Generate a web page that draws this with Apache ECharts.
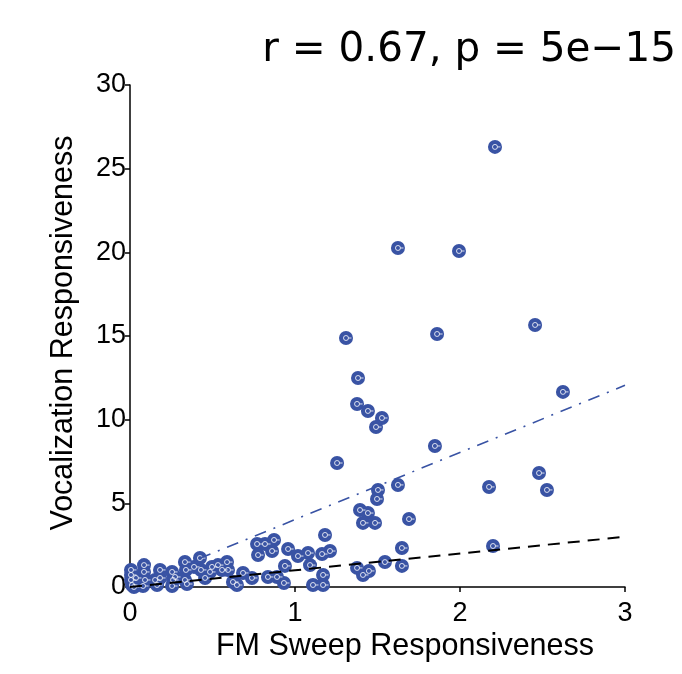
<!DOCTYPE html>
<html><head><meta charset="utf-8">
<script src="https://cdn.jsdelivr.net/npm/echarts@6/dist/echarts.min.js"></script>
<style>html,body{margin:0;padding:0;background:#fff}#c{width:682px;height:674px}</style>
</head><body><div id="c"></div>
<script>
const titleText = 'r = 0.67, p = 5e\u221215';
const xName = 'FM Sweep Responsiveness';
const yName = 'Vocalization Responsiveness';
const xTicks = [0, 1, 2, 3];
const yTicks = [0, 5, 10, 15, 20, 25, 30];
const fmSweep = [0.006,0.006,0.006,0.012,0.024,0.036,0.085,0.085,0.091,0.079,0.152,0.164,0.182,0.182,0.255,0.261,0.255,0.273,0.333,0.339,0.333,0.345,0.388,0.424,0.430,0.455,0.485,0.497,0.533,0.558,0.588,0.594,0.624,0.648,0.685,0.739,0.770,0.818,0.873,0.861,0.776,0.958,1.018,1.079,1.091,0.939,0.836,0.891,0.933,1.182,1.212,1.164,1.170,1.109,1.170,1.255,1.309,1.382,1.376,1.442,1.527,1.491,1.848,1.624,1.994,2.212,1.861,2.455,2.624,1.503,1.497,1.624,1.394,1.442,1.412,1.485,1.691,1.648,1.545,1.648,1.376,1.448,1.412,2.479,2.176,2.527,2.200];
const vocal = [1.02,0.72,0.42,0.12,0.0,0.54,1.31,0.90,0.42,0.06,0.42,0.12,1.02,0.54,0.90,0.42,0.06,0.60,1.49,1.02,0.42,0.18,1.20,1.73,1.02,0.54,0.90,1.20,1.31,1.02,1.49,1.02,0.30,0.12,0.84,0.54,2.57,2.57,2.81,2.15,1.91,2.27,1.85,2.03,1.31,1.26,0.60,0.60,0.24,3.11,2.15,1.97,0.72,0.12,0.12,7.41,14.88,12.49,10.94,10.52,10.10,9.56,8.43,20.26,20.08,26.30,15.12,15.66,11.66,5.80,5.26,6.10,4.60,4.42,3.83,3.83,4.06,2.33,1.49,1.26,1.14,0.96,0.72,6.81,5.98,5.80,2.45];
const unityLineX = [0, 3];
const unityLineY = [0, 3];
const fitLineX = [0.42, 3];
const fitLineY = [1.7, 12.05];

const blue = '#3953a4';
const pts = fmSweep.map((x, i) => [x, vocal[i]]);
const chart = echarts.init(document.getElementById('c'));
chart.setOption({
  animation: false,
  backgroundColor: '#fff',
  grid: {left: 130, right: 57, top: 85, bottom: 87},
  xAxis: {
    type: 'value', min: 0, max: 3, interval: 1,
    axisLine: {lineStyle: {color: '#000', width: 1.5}},
    axisTick: {inside: false, length: 5, lineStyle: {color: '#000', width: 1.5}},
    axisLabel: {color: '#000', fontSize: 27, fontFamily: 'Liberation Sans', margin: 13},
    splitLine: {show: false}
  },
  yAxis: {
    type: 'value', min: 0, max: 30, interval: 5,
    axisLine: {show: true, lineStyle: {color: '#000', width: 1.5}},
    axisTick: {show: true, inside: false, length: 5, lineStyle: {color: '#000', width: 1.5}},
    axisLabel: {color: '#000', fontSize: 27, fontFamily: 'Liberation Sans', margin: 4},
    splitLine: {show: false}
  },
  graphic: [
    {type: 'text', x: 676, y: 50, style: {text: titleText, font: '40.5px "DejaVu Sans"', fill: '#000', align: 'right', verticalAlign: 'middle'}},
    {type: 'text', x: 405, y: 647, style: {text: xName, font: '30.5px "Liberation Sans"', fill: '#000', align: 'center', verticalAlign: 'middle'}},
    {type: 'text', x: 64, y: 333, rotation: Math.PI / 2, style: {text: yName, font: '30.5px "Liberation Sans"', fill: '#000', align: 'center', verticalAlign: 'middle'}}
  ],
  series: [
    {type: 'scatter', data: pts, symbol: 'circle', symbolSize: 14, itemStyle: {color: blue, opacity: 1}, z: 3},
    {type: 'scatter', data: pts, symbol: 'circle', symbolSize: 5, itemStyle: {color: 'transparent', borderColor: '#fff', borderWidth: 1}, z: 4},
    {type: 'scatter', data: pts, symbol: 'rect', symbolSize: [3, 1], symbolOffset: [4, 0], itemStyle: {color: '#fff'}, z: 4},
    {type: 'line', data: unityLineX.map((x, i) => [x, unityLineY[i]]), symbol: 'none', lineStyle: {color: '#000', width: 2, type: [12, 8]}, z: 5},
    {type: 'line', data: fitLineX.map((x, i) => [x, fitLineY[i]]), symbol: 'none', lineStyle: {color: blue, width: 1.6, type: [12, 8, 2, 8]}, z: 5}
  ]
});
</script></body></html>
